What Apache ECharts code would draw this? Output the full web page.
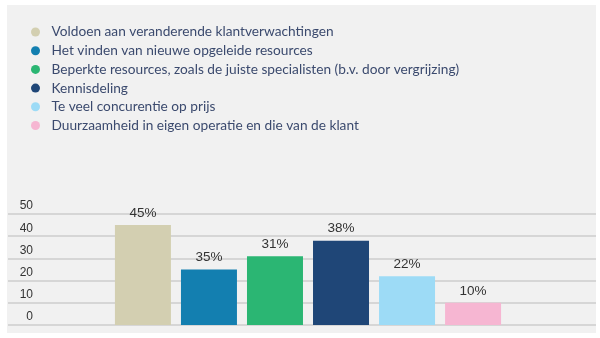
<!DOCTYPE html>
<html><head><meta charset="utf-8">
<script src="https://cdn.jsdelivr.net/npm/echarts@6/dist/echarts.min.js"></script>
<style>html,body{margin:0;padding:0;background:#fff}#c{width:600px;height:338px}</style>
</head><body><div id="c"></div>
<script>
const seriesNames = [
  'Voldoen aan veranderende klantverwachtingen',
  'Het vinden van nieuwe opgeleide resources',
  'Beperkte resources, zoals de juiste specialisten (b.v. door vergrijzing)',
  'Kennisdeling',
  'Te veel concurentie op prijs',
  'Duurzaamheid in eigen operatie en die van de klant'
];
const barValues = [45, 25, 31, 38, 22, 10];
const barLabels = ['45%', '35%', '31%', '38%', '22%', '10%'];
const colors = ['#d3cfb1', '#137fb0', '#2bb673', '#1f4677', '#9ddbf6', '#f6b6d2'];
const category = [''];
const yTicks = { min: 0, max: 50, interval: 10 };

const chart = echarts.init(document.getElementById('c'));
const series = seriesNames.map((n, i) => ({
  name: n, type: 'bar', xAxisIndex: 1, yAxisIndex: 1,
  data: [barValues[i]], barWidth: 56, barGap: '17.9%',
  itemStyle: { color: colors[i] },
  label: { show: true, position: 'top', distance: 5, formatter: () => barLabels[i],
    color: '#333', fontSize: 13.5, fontFamily: 'Liberation Sans' }
}));
chart.setOption({
  animation: false,
  color: colors,
  graphic: [{ type: 'rect', z: -10, shape: { x: 7, y: 5, width: 589, height: 328 }, style: { fill: '#f1f1f1' } }],
  legend: {
    orient: 'vertical', left: 26, top: 19, icon: 'circle', itemWidth: 22, itemHeight: 9,
    itemGap: 2.7,
    textStyle: { fontFamily: 'Lato', fontSize: 13.7, color: '#3b4a6e', lineHeight: 16 },
    data: seriesNames
  },
  grid: [
    { left: 8, right: 4, top: 214, bottom: 13 },
    { left: 20, right: 4, top: 214, bottom: 13 }
  ],
  xAxis: [
    { type: 'category', gridIndex: 0, data: category, show: false },
    { type: 'category', gridIndex: 1, data: category, show: false }
  ],
  yAxis: [
    { type: 'value', gridIndex: 0, min: yTicks.min, max: yTicks.max, interval: yTicks.interval,
      axisLine: { show: false }, axisTick: { show: false },
      splitLine: { lineStyle: { color: '#d6d6d6', width: 2 } },
      axisLabel: { inside: true, margin: 25, align: 'right', verticalAlign: 'bottom', padding: [0, 0, 2, 0],
        color: '#333', fontSize: 12, fontFamily: 'Liberation Sans' } },
    { type: 'value', gridIndex: 1, min: yTicks.min, max: yTicks.max, interval: yTicks.interval, show: false,
      splitLine: { show: false } }
  ],
  series: series
});
</script></body></html>
